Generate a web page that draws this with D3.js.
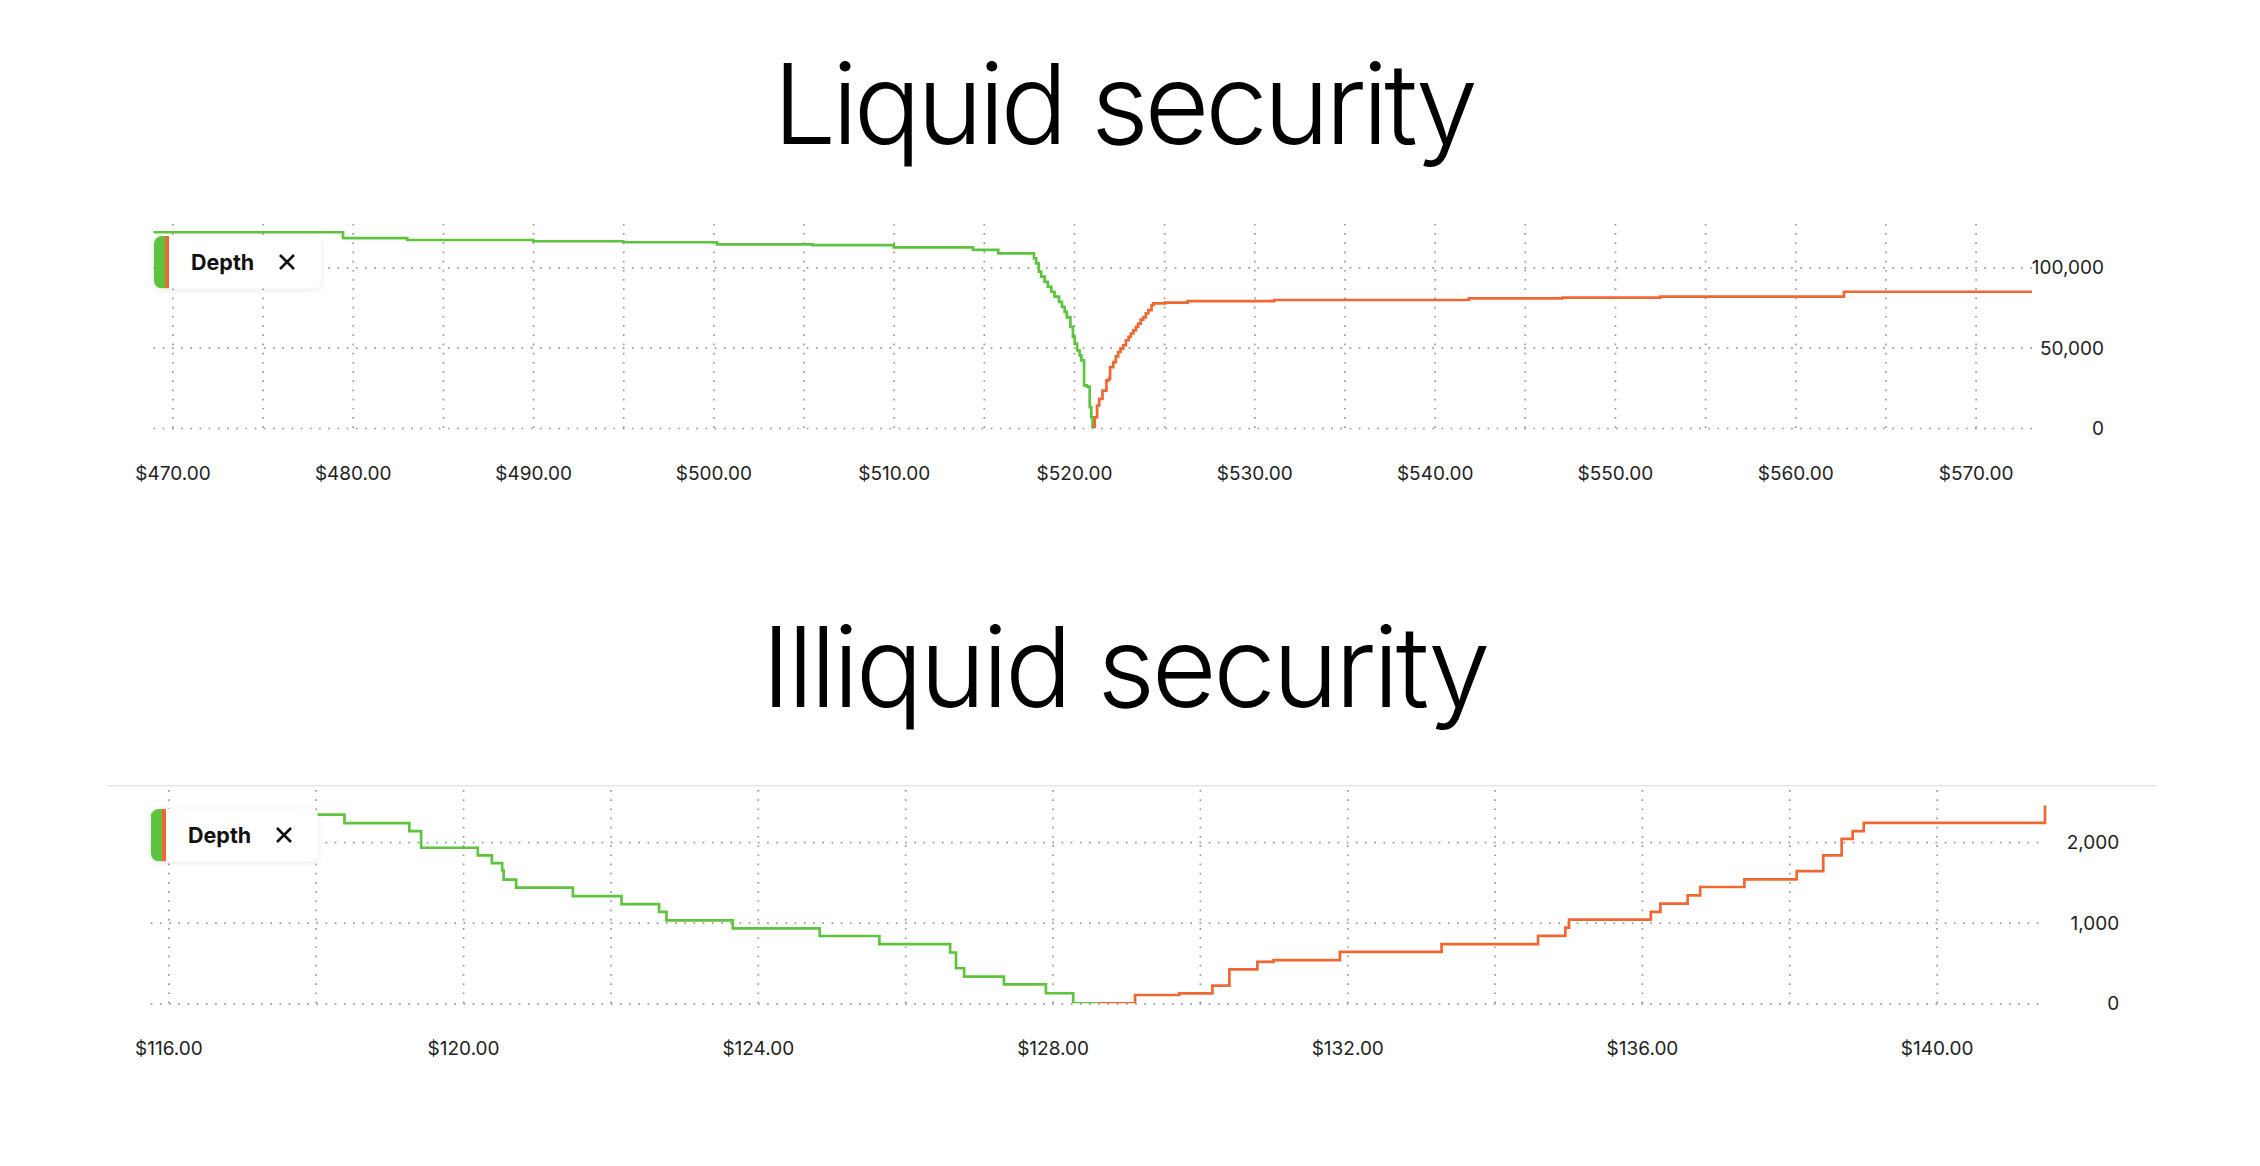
<!DOCTYPE html>
<html><head><meta charset="utf-8">
<script src="https://cdn.jsdelivr.net/npm/d3@7"></script>
<style>
html,body{margin:0;padding:0;background:#fff;}
svg{display:block;}
</style></head><body>
<svg id="chart" width="2260" height="1166"></svg>
<script>
// ---------------- DATA ----------------
const titles = ["Liquid security", "Illiquid security"];
const legendLabel = "Depth";

// Liquid security — cumulative bid depth (green) by price
const liquidBidPrice = [468.95, 479.46, 483.02, 490.01, 495.01, 500.2, 505.5, 510.0, 514.4, 515.8,
  517.78, 517.90, 518.05, 518.18, 518.37, 518.55, 518.74, 518.92, 519.17, 519.33, 519.48, 519.60,
  519.80, 519.94, 520.04, 520.17, 520.31, 520.41, 520.56, 520.72, 520.87, 520.96, 521.03, 521.04];
const liquidBidDepth = [121800, 118100, 117000, 116200, 115600, 114300, 113800, 112400, 110800, 108700,
  105600, 102500, 97300, 94200, 91000, 87900, 84800, 81700, 78500, 75400, 72300, 68800,
  62900, 56700, 52500, 48300, 45200, 42100, 26500, 25800, 12900, 6700, 0, 0];
// Liquid security — cumulative ask depth (orange) by price
const liquidAskPrice = [521.04, 521.15, 521.28, 521.40, 521.58, 521.80, 521.93, 522.00, 522.18, 522.32,
  522.45, 522.58, 522.73, 522.88, 523.03, 523.15, 523.29, 523.43, 523.56, 523.70, 523.84, 523.98,
  524.12, 524.30, 524.40, 525.06, 526.30, 531.10, 541.90, 547.10, 552.50, 562.70, 573.13];
const liquidAskDepth = [0, 6700, 14000, 18100, 23300, 29600, 30600, 37900, 41000, 44600,
  47300, 49400, 51500, 54600, 56700, 58800, 60800, 62900, 65000, 67500, 68800, 71300,
  73300, 76500, 77500, 78000, 79000, 79650, 80700, 81100, 81700, 84800, 84800];
const liquidGridX = d3.range(470, 571, 5);
const liquidXTicks = [470, 480, 490, 500, 510, 520, 530, 540, 550, 560, 570];
const liquidYTicks = [0, 50000, 100000];

// Illiquid security — cumulative bid depth (green)
const illiquidBidPrice = [115.76, 118.39, 119.27, 119.43, 120.20, 120.39, 120.53, 120.55, 120.72, 121.49,
  122.15, 122.66, 122.76, 123.66, 124.84, 125.65, 126.61, 126.69, 126.80, 127.34, 127.91, 128.28, 128.62];
const illiquidBidDepth = [2340, 2235, 2135, 1930, 1835, 1740, 1650, 1535, 1435, 1330,
  1230, 1135, 1030, 930, 835, 735, 630, 435, 330, 235, 125, 0, 0];
// Illiquid security — cumulative ask depth (orange)
const illiquidAskPrice = [128.62, 129.12, 129.72, 130.17, 130.40, 130.78, 131.00, 131.90, 133.28, 134.59,
  134.96, 135.01, 136.12, 136.25, 136.62, 136.79, 137.39, 138.10, 138.46, 138.71, 138.86, 139.01, 141.47];
const illiquidAskDepth = [0, 103, 124, 219, 421, 515, 536, 639, 734, 837,
  940, 1039, 1134, 1237, 1340, 1443, 1538, 1641, 1835, 2041, 2136, 2239, 2454];
const illiquidGridX = d3.range(116, 141, 2);
const illiquidXTicks = [116, 120, 124, 128, 132, 136, 140];
const illiquidYTicks = [0, 1000, 2000];

// ---------------- DRAW ----------------
const GREEN = "#5ec43f", ORANGE = "#ef6833";
const svg = d3.select("#chart");
svg.append("rect").attr("width", 2260).attr("height", 1166).attr("fill", "#fff");

const defs = svg.append("defs");
const sh = defs.append("filter").attr("id", "legShadow").attr("x", "-20%").attr("y", "-40%").attr("width", "140%").attr("height", "180%");
sh.append("feDropShadow").attr("dx", 0).attr("dy", 1.5).attr("stdDeviation", 3).attr("flood-color", "#000").attr("flood-opacity", 0.09);

function zip(a, b) { return a.map((v, i) => [v, b[i]]); }

function drawChart(cfg) {
  const x = d3.scaleLinear().domain(cfg.xDomain).range([cfg.left, cfg.right]);
  const y = d3.scaleLinear().domain([0, cfg.yRef]).range([cfg.y0, cfg.yRefPx]);
  const g = svg.append("g");

  // title
  svg.append("text").attr("x", cfg.titleX).attr("y", cfg.titleY).attr("text-anchor", "middle")
    .attr("font-family", "Inter, 'Noto Sans', sans-serif").attr("font-size", 112).attr("font-weight", 300)
    .attr("textLength", cfg.titleW).attr("lengthAdjust", "spacing")
    .attr("fill", "#000").text(cfg.title);

  if (cfg.border) {
    g.append("line").attr("x1", cfg.border[0]).attr("x2", cfg.border[1])
      .attr("y1", cfg.border[2]).attr("y2", cfg.border[2])
      .attr("stroke", "#e2e6eb").attr("stroke-width", 1.6);
  }

  // vertical dotted grid
  const gx = g.append("g").attr("transform", `translate(0,${cfg.y0})`)
    .call(d3.axisBottom(x).tickValues(cfg.gridX).tickSize(-(cfg.y0 - cfg.gridTop)).tickFormat(""));
  gx.select(".domain").remove();
  gx.selectAll("line").attr("stroke", "#999").attr("stroke-width", 1.7).attr("stroke-dasharray", "1.7 7.5");

  // horizontal dotted grid
  const gy = g.append("g").attr("transform", `translate(${cfg.left},0)`)
    .call(d3.axisLeft(y).tickValues(cfg.yTicks).tickSize(-(cfg.right - cfg.left)).tickFormat(""));
  gy.select(".domain").remove();
  gy.selectAll("line").attr("stroke", "#999").attr("stroke-width", 1.7).attr("stroke-dasharray", "1.7 7.5");

  // x labels
  const xl = g.append("g").attr("transform", `translate(0,${cfg.xLabelY})`)
    .call(d3.axisBottom(x).tickValues(cfg.xTicks).tickSize(0).tickPadding(0).tickFormat(d => "$" + d.toFixed(2)));
  xl.select(".domain").remove();
  xl.selectAll("text").attr("y", 0).attr("dy", "0.35em")
    .attr("font-family", "Inter, 'Noto Sans', sans-serif").attr("font-size", 19).attr("fill", "#222");

  // y labels
  const yl = g.append("g").attr("transform", `translate(${cfg.yLabelX},0)`)
    .call(d3.axisLeft(y).tickValues(cfg.yTicks).tickSize(0).tickPadding(0).tickFormat(d3.format(",")));
  yl.select(".domain").remove();
  yl.selectAll("text").attr("dy", "0.35em")
    .attr("font-family", "Inter, 'Noto Sans', sans-serif").attr("font-size", 19).attr("fill", "#222");

  // clip at zero line
  const cid = "clip" + cfg.id;
  defs.append("clipPath").attr("id", cid).append("rect")
    .attr("x", cfg.left - 10).attr("y", cfg.gridTop - 40).attr("width", cfg.right - cfg.left + 20)
    .attr("height", cfg.y0 - cfg.gridTop + 40);

  const line = d3.line().x(d => x(d[0])).y(d => y(d[1])).curve(d3.curveStepAfter);
  const lg = g.append("g").attr("clip-path", `url(#${cid})`);
  lg.append("path").datum(zip(cfg.bidP, cfg.bidD)).attr("d", line)
    .attr("fill", "none").attr("stroke", GREEN).attr("stroke-width", 2.7).attr("stroke-linejoin", "miter");
  lg.append("path").datum(zip(cfg.askP, cfg.askD)).attr("d", line)
    .attr("fill", "none").attr("stroke", ORANGE).attr("stroke-width", 2.7).attr("stroke-linejoin", "miter");

  // legend
  const L = g.append("g").attr("transform", `translate(${cfg.legX},${cfg.legY})`);
  const lw = 167, lh = 52.5;
  L.append("rect").attr("width", lw).attr("height", lh).attr("rx", 8).attr("fill", "#fff")
    .attr("filter", "url(#legShadow)");
  const lcid = "legclip" + cfg.id;
  defs.append("clipPath").attr("id", lcid).append("rect").attr("width", lw).attr("height", lh).attr("rx", 8);
  const LS = L.append("g").attr("clip-path", `url(#${lcid})`);
  LS.append("rect").attr("x", 0).attr("width", 11).attr("height", lh).attr("fill", GREEN);
  LS.append("rect").attr("x", 11).attr("width", 4).attr("height", lh).attr("fill", ORANGE);
  L.append("text").attr("x", 37).attr("y", 34).attr("font-family", "Inter, 'Noto Sans', sans-serif")
    .attr("font-size", 21.5).attr("font-weight", 700).attr("fill", "#111").text(legendLabel);
  const cx = 133, cy = 26;
  L.append("path").attr("d", `M${cx-7},${cy-7}L${cx+7},${cy+7}M${cx+7},${cy-7}L${cx-7},${cy+7}`)
    .attr("stroke", "#111").attr("stroke-width", 2.6).attr("fill", "none");
}

drawChart({
  id: "liq", title: titles[0], titleX: 1125.5, titleY: 144, titleW: 705,
  xDomain: [468.95, 573.13], left: 153.5, right: 2032,
  yRef: 100000, y0: 428, yRefPx: 267.3, gridTop: 222,
  gridX: liquidGridX, xTicks: liquidXTicks, yTicks: liquidYTicks,
  xLabelY: 473.3, yLabelX: 2104,
  bidP: liquidBidPrice, bidD: liquidBidDepth, askP: liquidAskPrice, askD: liquidAskDepth,
  legX: 154, legY: 236
});

drawChart({
  id: "ill", title: titles[1], titleX: 1126, titleY: 706.7, titleW: 729,
  xDomain: [115.76, 141.47], left: 150.7, right: 2045,
  yRef: 1000, y0: 1003.3, yRefPx: 922.7, gridTop: 787,
  gridX: illiquidGridX, xTicks: illiquidXTicks, yTicks: illiquidYTicks,
  xLabelY: 1048.3, yLabelX: 2119.3,
  bidP: illiquidBidPrice, bidD: illiquidBidDepth, askP: illiquidAskPrice, askD: illiquidAskDepth,
  legX: 151, legY: 809,
  border: [106.7, 2156.7, 785.7]
});
</script>
</body></html>
